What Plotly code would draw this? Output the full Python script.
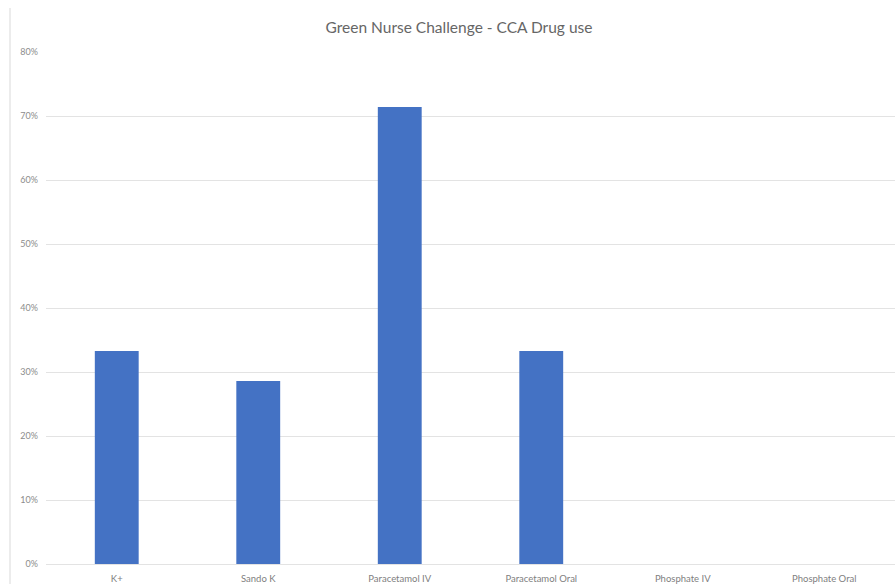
import plotly.graph_objects as go

categories = ["K+", "Sando K", "Paracetamol IV", "Paracetamol Oral", "Phosphate IV", "Phosphate Oral"]
usage = [0.333, 0.286, 0.714, 0.333, 0.0, 0.0]
y_ticks = [0, 0.1, 0.2, 0.3, 0.4, 0.5, 0.6, 0.7, 0.8]
y_tick_labels = ["0%", "10%", "20%", "30%", "40%", "50%", "60%", "70%", "80%"]
title_text = "Green Nurse Challenge - CCA Drug use"

fig = go.Figure(
    go.Bar(
        x=categories,
        y=usage,
        marker=dict(color="#4472C4", line=dict(width=0)),
        width=0.31,
        hoverinfo="x+y",
    )
)

fig.update_layout(
    width=895,
    height=584,
    margin=dict(l=46, r=0, t=52, b=20),
    paper_bgcolor="white",
    plot_bgcolor="white",
    font=dict(family="Lato, 'Open Sans', sans-serif", color="#7f7f7f"),
    showlegend=False,
    title=dict(
        text=title_text,
        x=459 / 895,
        xanchor="center",
        xref="container",
        y=1 - 28 / 584,
        yanchor="middle",
        yref="container",
        font=dict(size=15.5, color="#666666", family="Lato, 'Open Sans', sans-serif"),
    ),
    xaxis=dict(
        showgrid=False,
        showline=False,
        ticks="",
        tickfont=dict(size=9.5, color="#808080"),
        ticklabelstandoff=7,
        zeroline=False,
    ),
    yaxis=dict(
        range=[0, 0.8],
        tickvals=y_ticks,
        ticktext=y_tick_labels,
        showgrid=True,
        gridcolor="#e3e3e3",
        gridwidth=1,
        zeroline=True,
        zerolinecolor="#e3e3e3",
        zerolinewidth=1,
        showline=False,
        ticks="",
        tickfont=dict(size=9, color="#8c8c8c"),
        ticklabelstandoff=7,
    ),
    shapes=[
        dict(
            type="line",
            xref="paper",
            yref="paper",
            x0=-36 / 849,
            x1=-36 / 849,
            y0=-20 / 512,
            y1=1 + 44 / 512,
            line=dict(color="#d9d9d9", width=1),
        )
    ],
)

fig.write_html("out.html")
